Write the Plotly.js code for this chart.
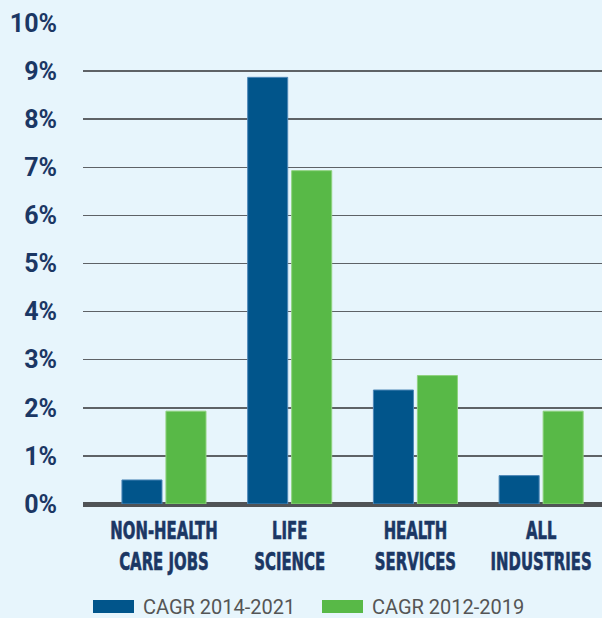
<!DOCTYPE html>
<html><head><meta charset="utf-8">
<script src="https://cdn.plot.ly/plotly-3.0.1.min.js"></script>
<style>html,body{margin:0;padding:0;background:#e7f5fc}</style></head>
<body><div id="chart" style="width:602px;height:618px"></div>
<script>
const categories = ["NON-HEALTH<br>CARE JOBS", "LIFE<br>SCIENCE", "HEALTH<br>SERVICES", "ALL<br>INDUSTRIES"];
const seriesNames = ["CAGR 2014-2021", "CAGR 2012-2019"];
const cagr2014to2021 = [0.5, 8.87, 2.37, 0.59];
const cagr2012to2019 = [1.93, 6.93, 2.67, 1.93];
const yTickValues = [0, 1, 2, 3, 4, 5, 6, 7, 8, 9, 10];
const yTickLabels = ["0%", "1%", "2%", "3%", "4%", "5%", "6%", "7%", "8%", "9%", "10%"];

const BLUE = "#01558b", GREEN = "#58b947";
const W = 602, H = 618, M = {l: 83, r: 0, t: 23, b: 114};
const px2x = p => (p - M.l) / (W - M.l - M.r);
const px2y = p => (H - M.b - p) / (H - M.t - M.b);

const traces = [
  {type: "bar", x: categories, y: cagr2014to2021, name: seriesNames[0],
   marker: {color: BLUE, line: {color: "#4f88b8", width: 1}}, hoverinfo: "none"},
  {type: "bar", x: categories, y: cagr2012to2019, name: seriesNames[1],
   marker: {color: GREEN, line: {color: "#8fd27f", width: 1}}, hoverinfo: "none"}
];

const swatches = [
  {x0: 93, x1: 134, color: BLUE, tx: 141, name: seriesNames[0]},
  {x0: 322, x1: 363, color: GREEN, tx: 370, name: seriesNames[1]}
];

const layout = {
  width: W, height: H,
  margin: M,
  paper_bgcolor: "#e7f5fc", plot_bgcolor: "#e7f5fc",
  showlegend: false,
  barmode: "group", bargap: 0.30, bargroupgap: 0.09,
  xaxis: {
    type: "category", range: [-0.644, 3.484],
    showgrid: false, showline: false, ticks: "", tickangle: 0,
    tickfont: {family: "'Liberation Sans Narrow', 'DejaVu Sans Condensed', Roboto, sans-serif", size: 24, weight: "bold", color: "#1b3764"},
    ticklabelstandoff: 10
  },
  yaxis: {
    range: [0, 10], tickvals: yTickValues, ticktext: yTickLabels,
    showgrid: true, gridcolor: "#5e6266", gridwidth: 1.5,
    zeroline: true, zerolinecolor: "#505356", zerolinewidth: 5,
    showline: false, ticks: "",
    tickfont: {family: "Roboto, sans-serif", size: 25, weight: "bold", color: "#1b3764"},
    ticklabelstandoff: 25
  },
  shapes: swatches.map(s => ({type: "rect", xref: "paper", yref: "paper",
    x0: px2x(s.x0), x1: px2x(s.x1), y0: px2y(613), y1: px2y(600),
    fillcolor: s.color, line: {width: 0}})),
  annotations: swatches.map(s => ({xref: "paper", yref: "paper",
    x: px2x(s.tx), y: px2y(607), xanchor: "left", yanchor: "middle",
    text: s.name, showarrow: false,
    font: {family: "Roboto, sans-serif", size: 20, color: "#555555"}}))
};

Plotly.newPlot("chart", traces, layout, {displayModeBar: false, staticPlot: true}).then(gd => {
  // condense the category labels horizontally (narrow display face)
  gd.querySelectorAll(".xtick text").forEach(t => {
    const cx = parseFloat(t.getAttribute("x")) || 0;
    const tr = t.getAttribute("transform") || "";
    t.setAttribute("transform", tr + " translate(" + cx + ",0) scale(0.69,1) translate(" + (-cx) + ",0)");
    t.style.stroke = "#1b3764";
    t.style.strokeWidth = "0.6px";
  });
});
</script></body></html>
